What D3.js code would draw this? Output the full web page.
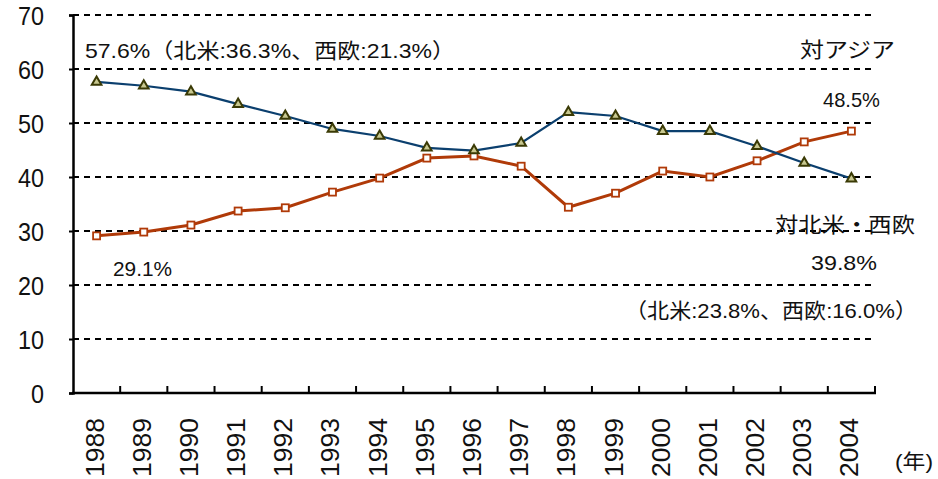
<!DOCTYPE html>
<html>
<head>
<meta charset="utf-8">
<script src="https://cdn.jsdelivr.net/npm/d3@7"></script>
<style>
  body { margin: 0; background: #fff; }
  svg text { font-family: "Liberation Sans", Arial, "Noto Sans CJK JP", sans-serif; fill: #111; }
</style>
</head>
<body>
<div id="chart"></div>
<script>
// shares of exports by destination (%)
let years = ["1988","1989","1990","1991","1992","1993","1994","1995","1996",
             "1997","1998","1999","2000","2001","2002","2003","2004"];
let asia = [57.6, 56.9, 55.8, 53.5, 51.3, 48.9, 47.6, 45.4, 44.9,
            46.3, 52.0, 51.3, 48.5, 48.5, 45.7, 42.6, 39.7];
let naEu = [29.1, 29.8, 31.1, 33.7, 34.3, 37.2, 39.8, 43.5, 43.9,
            42.0, 34.4, 37.0, 41.1, 40.0, 43.0, 46.5, 48.5];
let yTicks = [0, 10, 20, 30, 40, 50, 60, 70];

let W = 938, H = 479;
let svg = d3.select("#chart").append("svg")
    .attr("width", W)
    .attr("height", H);

let x = d3.scaleBand().domain(years).range([73, 875]);
let y = d3.scaleLinear().domain([0, 70]).range([393, 15]);
let cx = d => x(d) + x.bandwidth() / 2;

// dashed gridlines
svg.append("g")
  .selectAll("line")
  .data(yTicks.filter(d => d > 0))
  .join("line")
    .attr("x1", 73)
    .attr("x2", 875)
    .attr("y1", d => y(d))
    .attr("y2", d => y(d))
    .attr("stroke", "#000")
    .attr("stroke-width", 2)
    .attr("stroke-dasharray", "6,5");

// y axis
let yAxis = svg.append("g")
    .attr("transform", "translate(73,0)")
    .call(d3.axisLeft(y).tickValues(yTicks).tickSize(4).tickPadding(25));
yAxis.select(".domain").attr("stroke-width", 2.5);
yAxis.selectAll("line").attr("stroke-width", 2);
yAxis.selectAll("text")
    .attr("dy", "0.36em")
    .attr("textLength", d => String(d).length * 13)
    .attr("lengthAdjust", "spacingAndGlyphs")
    .style("font-size", "26px")
    .style("font-family", "Liberation Sans, Arial, sans-serif")
    .style("fill", "#111");

// x axis (ticks on band edges, pointing up)
svg.append("line")
    .attr("x1", 72).attr("x2", 876)
    .attr("y1", 393).attr("y2", 393)
    .attr("stroke", "#000").attr("stroke-width", 2.5);
svg.append("g")
  .selectAll("line")
  .data(years)
  .join("line")
    .attr("x1", d => x(d) + x.bandwidth())
    .attr("x2", d => x(d) + x.bandwidth())
    .attr("y1", 393)
    .attr("y2", 386)
    .attr("stroke", "#000")
    .attr("stroke-width", 2);

svg.append("g")
  .selectAll("text")
  .data(years)
  .join("text")
    .attr("transform", d => `translate(${cx(d) + 7},418) rotate(-90)`)
    .attr("text-anchor", "end")
    .attr("textLength", 59)
    .attr("lengthAdjust", "spacingAndGlyphs")
    .style("font-size", "25px")
    .text(d => d);

svg.append("text")
    .attr("x", 895).attr("y", 469)
    .attr("textLength", 38)
    .attr("lengthAdjust", "spacingAndGlyphs")
    .style("font-size", "20px")
    .text("(年)");

// lines
let line = d3.line()
    .x((d, i) => cx(years[i]))
    .y(d => y(d));

svg.append("path")
    .datum(naEu)
    .attr("fill", "none")
    .attr("stroke", "#b03a08")
    .attr("stroke-width", 3)
    .attr("d", line);

svg.append("path")
    .datum(asia)
    .attr("fill", "none")
    .attr("stroke", "#0b3f6e")
    .attr("stroke-width", 2.2)
    .attr("d", line);

// square markers
svg.append("g")
  .selectAll("rect")
  .data(naEu)
  .join("rect")
    .attr("x", (d, i) => cx(years[i]) - 3.5)
    .attr("y", d => y(d) - 3.5)
    .attr("width", 7)
    .attr("height", 7)
    .attr("fill", "#fff")
    .attr("stroke", "#b03a08")
    .attr("stroke-width", 1.8);

// triangle markers
let tri = d3.symbol().type(d3.symbolTriangle).size(40);
svg.append("g")
  .selectAll("path")
  .data(asia)
  .join("path")
    .attr("transform", (d, i) => `translate(${cx(years[i])},${y(d)})`)
    .attr("d", tri)
    .attr("fill", "#c8c890")
    .attr("stroke", "#3a3a05")
    .attr("stroke-width", 2);

// annotations (x is left edge, w is the measured width)
let notes = [
  { t: "57.6%（北米:36.3%、西欧:21.3%）", x: 85, y: 58, w: 370 },
  { t: "対アジア", x: 800, y: 57, w: 95 },
  { t: "48.5%", x: 823, y: 107, w: 57 },
  { t: "対北米・西欧", x: 775, y: 232, w: 140 },
  { t: "39.8%", x: 811, y: 270, w: 66 },
  { t: "（北米:23.8%、西欧:16.0%）", x: 625, y: 318, w: 292 },
  { t: "29.1%", x: 113, y: 276, w: 59 }
];
svg.append("g")
  .selectAll("text")
  .data(notes)
  .join("text")
    .attr("x", d => d.x)
    .attr("y", d => d.y)
    .attr("textLength", d => d.w)
    .attr("lengthAdjust", "spacingAndGlyphs")
    .style("font-size", "21px")
    .text(d => d.t);
</script>
</body>
</html>
